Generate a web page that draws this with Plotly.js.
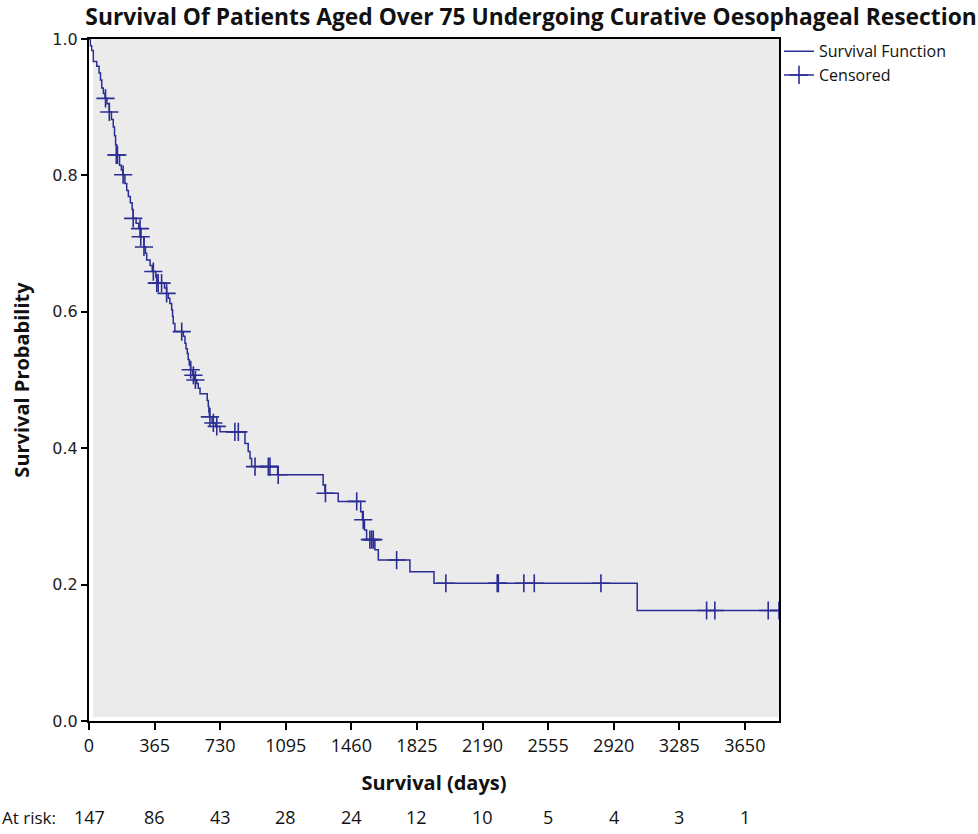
<!DOCTYPE html>
<html><head><meta charset="utf-8">
<script src="https://cdn.plot.ly/plotly-3.0.1.min.js"></script>
<style>html,body{margin:0;padding:0;background:#fff;}#chart{width:978px;height:834px;}</style>
</head><body><div id="chart"></div>
<script>
// Kaplan-Meier step points (days, survival probability after the step)
const stepTimes = [0,8,15,24,43,56,64,71,80,89,100,113,125,135,142,148,154,170,180,188,200,210,219,230,240,246,262,277,288,306,314,321,340,352,372,377,420,432,441,450,460,465,469,478,525,534,540,547,552,558,565,578,588,600,608,618,658,664,667,670,685,705,729,868,886,896,905,1050,1303,1313,1387,1512,1522,1533,1545,1591,1610,1786,1920,3051,3840];
const stepSurv  = [1.000,0.990,0.983,0.967,0.960,0.950,0.940,0.928,0.920,0.913,0.905,0.893,0.882,0.871,0.858,0.845,0.830,0.815,0.808,0.801,0.788,0.778,0.769,0.760,0.750,0.737,0.730,0.722,0.710,0.695,0.686,0.676,0.668,0.659,0.651,0.642,0.635,0.627,0.620,0.612,0.603,0.593,0.583,0.571,0.564,0.554,0.546,0.539,0.530,0.522,0.515,0.507,0.500,0.495,0.488,0.480,0.470,0.461,0.453,0.446,0.437,0.432,0.424,0.407,0.395,0.385,0.373,0.361,0.346,0.334,0.322,0.307,0.295,0.280,0.266,0.251,0.236,0.219,0.202,0.162,0.162];
// Censored observations
const censorTimes = [92,113,152,158,190,246,284,288,306,358,377,385,404,432,516,566,581,592,673,692,711,812,831,924,998,1007,1053,1316,1490,1526,1563,1573,1582,1712,1986,2272,2278,2420,2478,2849,3437,3483,3780,3840];
const censorSurv  = [0.913,0.893,0.830,0.830,0.801,0.737,0.722,0.710,0.695,0.659,0.642,0.642,0.642,0.627,0.571,0.515,0.507,0.500,0.446,0.437,0.432,0.424,0.424,0.373,0.373,0.373,0.361,0.334,0.322,0.295,0.266,0.266,0.266,0.236,0.202,0.202,0.202,0.202,0.202,0.202,0.162,0.162,0.162,0.162];
// Axis ticks and numbers at risk
const xTickVals = [0,365,730,1095,1460,1825,2190,2555,2920,3285,3650];
const yTickVals = [0,0.2,0.4,0.6,0.8,1.0];
const yTickText = ['0.0','0.2','0.4','0.6','0.8','1.0'];
const atRiskCounts = [147,86,43,28,24,12,10,5,4,3,1];

const navy = '#2b2d94';
const cx = [], cy = [];
censorTimes.forEach((t,i)=>{ cx.push(t, null); cy.push(censorSurv[i], null); });

const traces = [
  {x: stepTimes, y: stepSurv, type:'scatter', mode:'lines', name:'Survival Function',
   line:{color:navy, width:1.5, shape:'hv'}},
  {x: cx, y: cy, type:'scatter', mode:'lines+markers', name:'Censored', connectgaps:false,
   line:{color:navy, width:1.5},
   marker:{symbol:'cross-thin', size:13, color:navy, line:{color:navy, width:1.6}}}
];

const riskFont = {family:'Open Sans', size:18, color:'#111'};
const annotations = atRiskCounts.map((n,i)=>({
  x: xTickVals[i], xref:'x', y: -0.141, yref:'paper', text: String(n), showarrow:false,
  xanchor:'center', yanchor:'middle', font: riskFont
}));
annotations.push({x:-0.129, xref:'paper', y:-0.141, yref:'paper', text:'At risk:', showarrow:false,
  xanchor:'left', yanchor:'middle', font: {family:'Open Sans', size:17, color:'#111'}});

const layout = {
  width: 978, height: 834,
  margin: {l:89, r:199, t:39, b:113},
  paper_bgcolor:'#ffffff', plot_bgcolor:'#ffffff',
  title: {text:'Survival Of Patients Aged Over 75 Undergoing Curative Oesophageal Resection',
    x: 0.543, xanchor:'center', xref:'container', y: 0.979, yanchor:'middle', yref:'container',
    font:{family:'Open Sans', size:22.8, color:'#111', weight:'bold'}},
  xaxis: {range:[0,3840], tickvals:xTickVals, ticktext:xTickVals.map(String),
    showgrid:false, zeroline:false, showline:true, linecolor:'#000', linewidth:2, mirror:true,
    ticks:'outside', ticklen:7, tickwidth:2, tickcolor:'#000',
    tickfont:{family:'Open Sans', size:18, color:'#111'},
    title:{text:'Survival (days)', standoff:20, font:{family:'Open Sans', size:20, color:'#111', weight:'bold'}},
    fixedrange:true},
  yaxis: {range:[0,1], tickvals:yTickVals, ticktext:yTickText,
    showgrid:false, zeroline:false, showline:true, linecolor:'#000', linewidth:2, mirror:true,
    ticks:'outside', ticklen:6, tickwidth:2, tickcolor:'#000',
    tickfont:{family:'DejaVu Sans', size:16, color:'#222'},
    title:{text:'Survival Probability', standoff:17, font:{family:'Open Sans', size:20, color:'#111', weight:'bold'}},
    fixedrange:true},
  shapes: [{type:'rect', xref:'x domain', yref:'y domain', x0:0.006, x1:1, y0:0.006, y1:1,
    fillcolor:'#ebebeb', line:{width:0}, layer:'below'}],
  legend: {x:1.0, xanchor:'left', y:1.007, yanchor:'top', bgcolor:'rgba(0,0,0,0)',
    font:{family:'Open Sans', size:16, color:'#111'}, tracegroupgap:0, itemwidth:30},
  annotations: annotations,
  showlegend: true
};

Plotly.newPlot('chart', traces, layout, {displayModeBar:false, staticPlot:true});
</script></body></html>
